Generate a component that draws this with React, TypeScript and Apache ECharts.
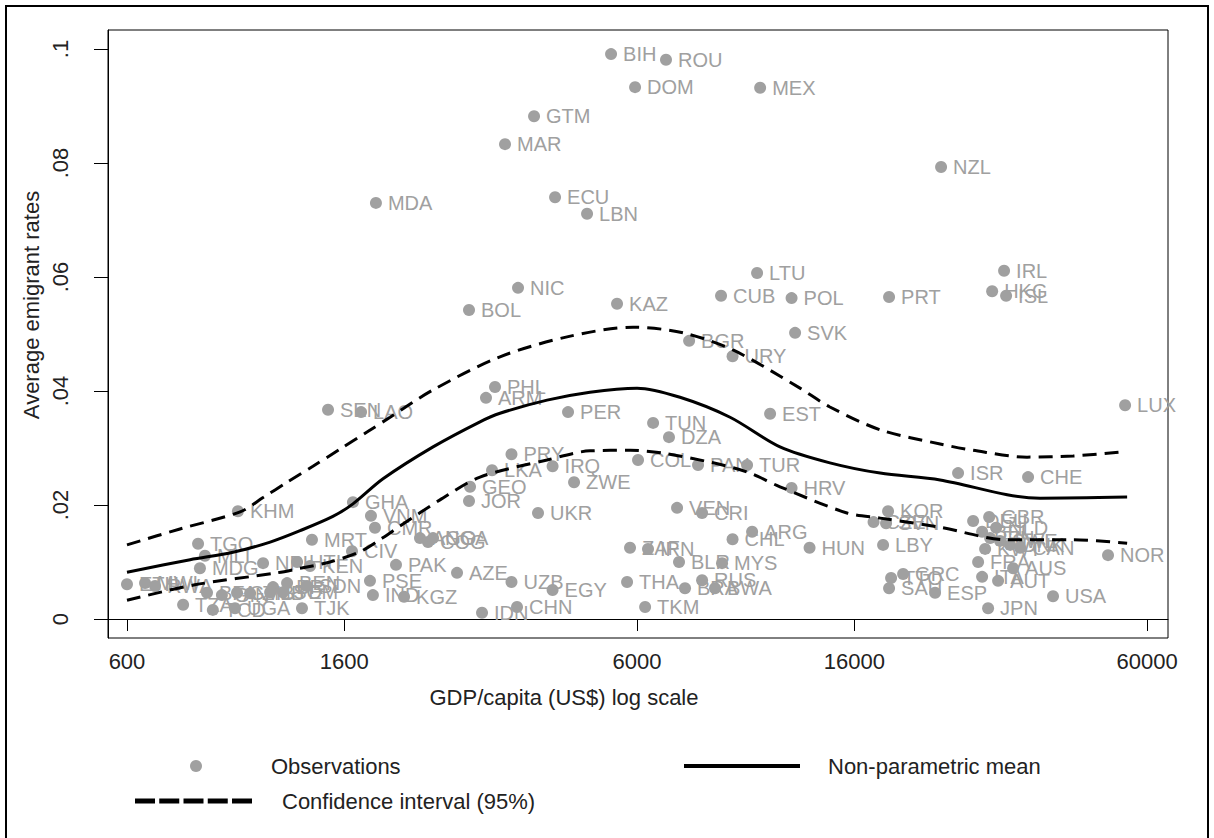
import React, { useEffect, useRef } from 'react';
import * as echarts from 'echarts';

const countries = ['BIH','ROU','DOM','MEX','GTM','MAR','NZL','MDA','ECU','LBN','LTU','IRL','NIC','CUB','POL','PRT','HKG','ISL','KAZ','BOL','SVK','BGR','URY','LUX','PHL','ARM','SEN','LAO','PER','EST','TUN','DZA','PRY','COL','IRQ','PAN','TUR','ISR','CHE','LKA','ZWE','GEO','JOR','HRV','GHA','KHM','UKR','VEN','CRI','KOR','CZE','SVN','VNM','CMR','ARG','CHL','AGO','COG','NGA','MRT','TGO','HUN','LBY','ZAF','IRN','CIV','MLI','NPL','HTI','MDG','KEN','PAK','AZE','PSE','IND','KGZ','LBR','BEN','SDN','ETH','MWI','RWA','TZA','TCD','UGA','TJK','BFA','GIN','GMB','ZMB','LSO','YEM','IDN','UZB','CHN','EGY','THA','TKM','BLR','MYS','RUS','BRA','BWA','GBR','DEU','NLD','BEL','FIN','SWE','DNK','CAN','KWT','FRA','AUS','ITA','AUT','JPN','USA','NOR','ESP','GRC','TTO','SAU'];

const gdpPerCapita = [5336,6838,5947,10459,3769,3306,23673,1846,4144,4788,10316,31460,3506,8767,12054,18719,29810,31750,5482,2810,12247,7590,9235,54330,3160,3034,1487,1726,4394,10940,6451,6931,3404,6027,4098,7902,9860,25560,35060,3118,4515,2823,2810,12054,1664,990,3837,7188,8048,18634,17453,18467,1805,1838,10087,9235,2252,2335,2389,1383,827,13074,18220,5813,6305,1657,853,1109,1293,834,1371,2021,2662,1797,1821,2096,1160,1236,1352,600,651,681,773,884,977,1322,861,921,986,1046,1145,1213,2980,3404,3490,4098,5736,6223,7252,8807,8048,7451,8532,29410,27357,30350,28490,29540,30900,32330,33820,28880,27980,32770,28490,30620,29270,39240,50300,23040,19944,18890,18719];

const emigrantRates = [0.0991,0.0981,0.0933,0.0932,0.0882,0.0833,0.0793,0.0730,0.0740,0.0711,0.0607,0.0611,0.0581,0.0567,0.0563,0.0565,0.0575,0.0567,0.0553,0.0542,0.0502,0.0488,0.0461,0.0375,0.0407,0.0388,0.0367,0.0363,0.0363,0.0360,0.0344,0.0319,0.0289,0.0279,0.0268,0.0270,0.0270,0.0256,0.0249,0.0261,0.0240,0.0232,0.0207,0.0230,0.0205,0.0189,0.0186,0.0195,0.0186,0.0189,0.0170,0.0168,0.0181,0.0160,0.0153,0.0140,0.0142,0.0135,0.0142,0.0139,0.0132,0.0125,0.0130,0.0125,0.0123,0.0119,0.0111,0.0098,0.0100,0.0089,0.0093,0.0095,0.0081,0.0067,0.0042,0.0039,0.0056,0.0063,0.0058,0.0061,0.0063,0.0058,0.0025,0.0016,0.0019,0.0019,0.0046,0.0042,0.0046,0.0045,0.0047,0.0047,0.0011,0.0065,0.0021,0.0051,0.0065,0.0021,0.0100,0.0098,0.0068,0.0054,0.0054,0.0179,0.0172,0.0160,0.0153,0.0142,0.0137,0.0130,0.0125,0.0123,0.0100,0.0089,0.0074,0.0067,0.0019,0.0040,0.0112,0.0046,0.0079,0.0072,0.0054];

const meanGdp = [600,798,968,1145,1311,1520,1664,1906,2389,2953,3232,3997,4851,6000,7284,9131,11440,14330,17980,23570,31900,37020,54830];
const meanRate = [0.0082,0.0104,0.0117,0.0135,0.0155,0.0180,0.0202,0.0246,0.0302,0.0346,0.0361,0.0384,0.0398,0.0405,0.0389,0.0354,0.0302,0.0274,0.0256,0.0244,0.0218,0.0212,0.0214];

const upperGdp = [600,762,1000,1109,1236,1389,1570,1773,1968,2389,3232,4375,5892,7385,9253,12520,14330,17980,23570,27360,34900,42960,53100];
const upperRate = [0.0130,0.0158,0.0188,0.0213,0.0240,0.0268,0.0298,0.0328,0.0354,0.0402,0.0460,0.0495,0.0512,0.0502,0.0472,0.0405,0.0372,0.0332,0.0307,0.0296,0.0284,0.0286,0.0293];

const lowerGdp = [600,815,1181,1311,1500,1718,1900,2058,2465,2953,3997,4851,5813,6745,8457,9859,11440,15480,17980,23570,31900,42960,54830];
const lowerRate = [0.0033,0.0060,0.0081,0.0089,0.0100,0.0118,0.0142,0.0163,0.0209,0.0249,0.0279,0.0295,0.0296,0.0291,0.0274,0.0258,0.0232,0.0186,0.0177,0.0161,0.0139,0.0139,0.0133];

const xTicks = [600, 1600, 6000, 16000, 60000];
const yTicks = [0, 0.02, 0.04, 0.06, 0.08, 0.1];
const yTickLabels = ['0', '.02', '.04', '.06', '.08', '.1'];

const FONT = '"Liberation Sans", Arial, Helvetica, sans-serif';
const SOLID_ICON = 'path://M0,0h116v4h-116z';
const DASH_ICON = 'path://M0,0h20v5h-20zM24.25,0h20v5h-20zM48.5,0h20v5h-20zM72.75,0h20v5h-20zM97,0h20v5h-20z';

export default function App() {
  const ref = useRef<HTMLDivElement>(null);
  useEffect(() => {
    document.body.style.margin = '0';
    if (!ref.current) return;
    const chart = echarts.init(ref.current, null, { renderer: 'svg' });
    const pairs = (xs: number[], ys: number[]) => xs.map((x, i) => [x, ys[i]]);
    const dashed = { color: '#000', width: 3, type: [14, 8] as number[] };
    chart.setOption({
      animation: false,
      backgroundColor: '#fff',
      grid: {
        left: 108, top: 30, width: 1060, height: 608,
        show: true, borderColor: '#000', borderWidth: 1, backgroundColor: 'transparent',
      },
      xAxis: {
        type: 'log', logBase: 10, min: 550.7, max: 65940,
        axisLine: { show: true, lineStyle: { color: '#000', width: 1 } },
        axisTick: { show: true, inside: false, length: 12, customValues: xTicks, lineStyle: { color: '#000' } },
        axisLabel: {
          customValues: xTicks,
          formatter: (v: number) => String(Math.round(v)),
          fontSize: 22, color: '#222', margin: 12, fontFamily: FONT,
        },
        splitLine: { show: false },
        minorTick: { show: false },
      },
      yAxis: {
        type: 'value', min: -0.00333, max: 0.10333,
        axisLine: { show: true, lineStyle: { color: '#000', width: 1 } },
        axisTick: { show: true, inside: false, length: 14, customValues: yTicks, lineStyle: { color: '#000' } },
        axisLabel: {
          customValues: yTicks,
          rotate: 90,
          formatter: (v: number) => {
            const i = yTicks.findIndex((t) => Math.abs(t - v) < 1e-9);
            return i >= 0 ? yTickLabels[i] : '';
          },
          fontSize: 22, color: '#222', margin: 37, fontFamily: FONT,
        },
        splitLine: { show: false },
      },
      legend: [
        {
          data: ['Observations'], left: 190, top: 755, padding: 0,
          icon: 'circle', itemWidth: 12, itemHeight: 12,
          textStyle: { fontSize: 22, color: '#222', fontFamily: FONT, padding: [0, 0, 0, 64] },
        },
        {
          data: ['Non-parametric mean'], left: 684, top: 755, padding: 0,
          icon: SOLID_ICON, itemWidth: 116, itemHeight: 4,
          textStyle: { fontSize: 22, color: '#222', fontFamily: FONT, padding: [0, 0, 0, 23] },
        },
        {
          data: ['Confidence interval (95%)'], left: 135, top: 790, padding: 0,
          icon: DASH_ICON, itemWidth: 117, itemHeight: 5,
          textStyle: { fontSize: 22, color: '#222', fontFamily: FONT, padding: [0, 0, 0, 25] },
        },
      ],
      graphic: [
        {
          type: 'rect', z: -10, silent: true,
          shape: { x: 6, y: 6, width: 1202, height: 860 },
          style: { fill: 'none', stroke: '#000', lineWidth: 2 },
        },
        {
          type: 'text', x: 31, y: 305, rotation: Math.PI / 2,
          style: {
            text: 'Average emigrant rates', fontSize: 22, fontFamily: FONT,
            fill: '#222', align: 'center', verticalAlign: 'middle',
          },
        },
        {
          type: 'text', x: 564, y: 697,
          style: {
            text: 'GDP/capita (US$) log scale', fontSize: 22, fontFamily: FONT,
            fill: '#222', align: 'center', verticalAlign: 'middle',
          },
        },
      ],
      series: [
        {
          name: 'Observations', type: 'scatter', symbol: 'circle', symbolSize: 12,
          itemStyle: { color: '#a0a0a0', opacity: 1 },
          data: countries.map((c, i) => ({ name: c, value: [gdpPerCapita[i], emigrantRates[i]] })),
          label: {
            show: true, position: 'right', distance: 6, formatter: '{b}',
            fontSize: 20, color: '#a0a0a0', fontFamily: FONT,
          },
          z: 2,
        },
        {
          name: 'Non-parametric mean', type: 'line', smooth: 0.3, symbol: 'none',
          lineStyle: { color: '#000', width: 3 }, itemStyle: { color: '#000' },
          data: pairs(meanGdp, meanRate), z: 3,
        },
        {
          name: 'Confidence interval (95%)', type: 'line', smooth: 0.3, symbol: 'none',
          lineStyle: dashed, itemStyle: { color: '#000' },
          data: pairs(upperGdp, upperRate), z: 3,
        },
        {
          name: 'Confidence interval (95%)', type: 'line', smooth: 0.3, symbol: 'none',
          lineStyle: dashed, itemStyle: { color: '#000' },
          data: pairs(lowerGdp, lowerRate), z: 3,
        },
      ],
    });
    return () => chart.dispose();
  }, []);
  return (
    <div
      ref={ref}
      style={{ position: 'absolute', left: 0, top: 0, width: 1214, height: 838 }}
    />
  );
}
